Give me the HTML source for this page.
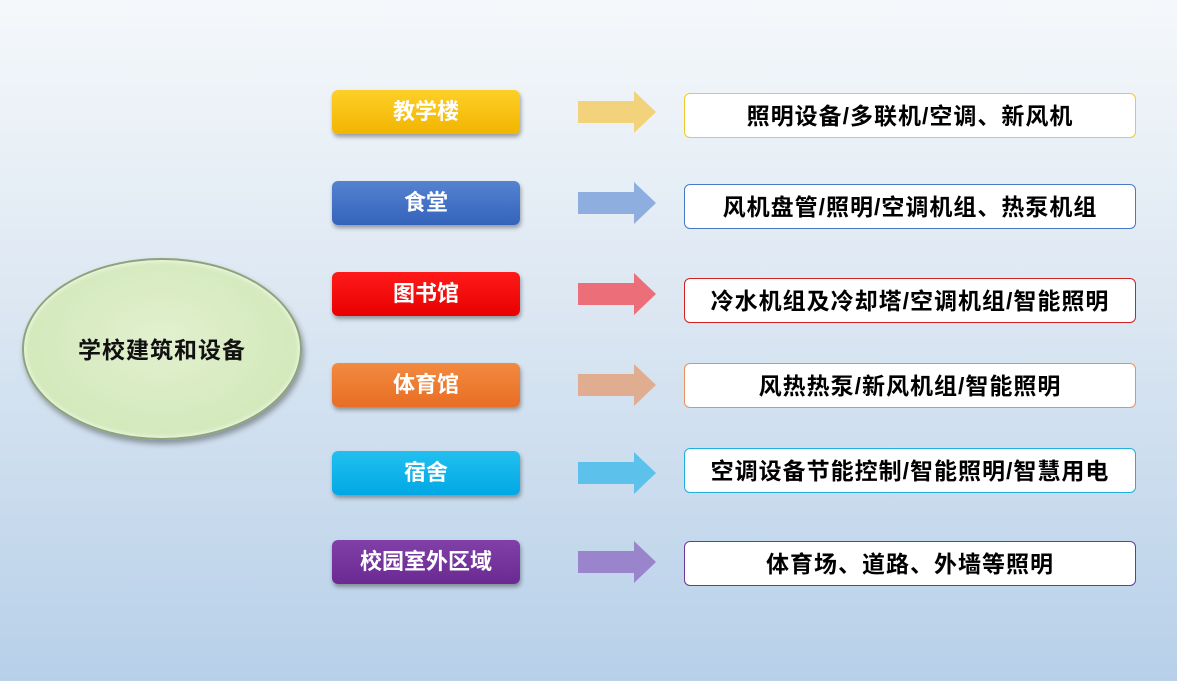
<!DOCTYPE html>
<html><head><meta charset="utf-8"><style>
*{margin:0;padding:0;box-sizing:border-box}
body{width:1177px;height:681px;overflow:hidden;position:relative;background:linear-gradient(#f5f8fb 0%,#dce7f2 45%,#b7d0e9 100%);font-family:"Liberation Sans","Noto Sans CJK SC",sans-serif}
.l{position:absolute;left:332px;width:188px;height:44px;border-radius:6px;color:#fff;font-size:22px;font-weight:bold;text-align:center;line-height:44px;box-shadow:1px 3px 4px rgba(0,0,0,.35)}
.r{position:absolute;left:684px;width:452px;height:45px;border-radius:6px;background:#fff;font-size:23px;font-weight:bold;letter-spacing:1px;text-align:center;line-height:44px;color:#000;border:1px solid}
svg.a{position:absolute;left:578px;width:78px;height:42px}
.e{position:absolute;left:22px;top:258px;width:280px;height:182px;border-radius:50%;background:radial-gradient(ellipse at 50% 45%,#e2f0cf 0%,#d3e9bb 70%,#c4dea8 100%);border:2px solid #8da47a;box-shadow:2px 4px 6px rgba(0,0,0,.35), inset 0 0 6px #fff;text-align:center;line-height:180px;font-size:23px;letter-spacing:1px;font-weight:bold;color:#111}
</style></head><body>
<div class="e">学校建筑和设备</div>

<div class="l" style="top:90px;background:linear-gradient(#fdd028,#f2b400)">教学楼</div>
<div class="l" style="top:181px;background:linear-gradient(#5582d0,#3463bb)">食堂</div>
<div class="l" style="top:272px;background:linear-gradient(#ff1a1a,#e80000)">图书馆</div>
<div class="l" style="top:363px;background:linear-gradient(#f28a40,#e86e24)">体育馆</div>
<div class="l" style="top:451px;background:linear-gradient(#22c0f0,#00a8e4)">宿舍</div>
<div class="l" style="top:540px;background:linear-gradient(#8040a8,#6a2a92)">校园室外区域</div>

<svg class="a" style="top:91px" viewBox="0 0 78 42"><polygon points="0,10 56,10 56,0 78,21 56,42 56,32 0,32" fill="#f2d27a"/></svg>
<svg class="a" style="top:182px" viewBox="0 0 78 42"><polygon points="0,10 56,10 56,0 78,21 56,42 56,32 0,32" fill="#8eaee0"/></svg>
<svg class="a" style="top:273px" viewBox="0 0 78 42"><polygon points="0,10 56,10 56,0 78,21 56,42 56,32 0,32" fill="#ec6e78"/></svg>
<svg class="a" style="top:364px" viewBox="0 0 78 42"><polygon points="0,10 56,10 56,0 78,21 56,42 56,32 0,32" fill="#e0ad90"/></svg>
<svg class="a" style="top:452px" viewBox="0 0 78 42"><polygon points="0,10 56,10 56,0 78,21 56,42 56,32 0,32" fill="#5cc2ec"/></svg>
<svg class="a" style="top:541px" viewBox="0 0 78 42"><polygon points="0,10 56,10 56,0 78,21 56,42 56,32 0,32" fill="#9a84cc"/></svg>

<div class="r" style="top:93px;border-color:#f0c830">照明设备/多联机/空调、新风机</div>
<div class="r" style="top:184px;border-color:#4a78c8">风机盘管/照明/空调机组、热泵机组</div>
<div class="r" style="top:278px;border-color:#d02020">冷水机组及冷却塔/空调机组/智能照明</div>
<div class="r" style="top:363px;border-color:#e89060">风热热泵/新风机组/智能照明</div>
<div class="r" style="top:448px;border-color:#20b0e0">空调设备节能控制/智能照明/智慧用电</div>
<div class="r" style="top:541px;border-color:#6a3a98">体育场、道路、外墙等照明</div>
</body></html>
